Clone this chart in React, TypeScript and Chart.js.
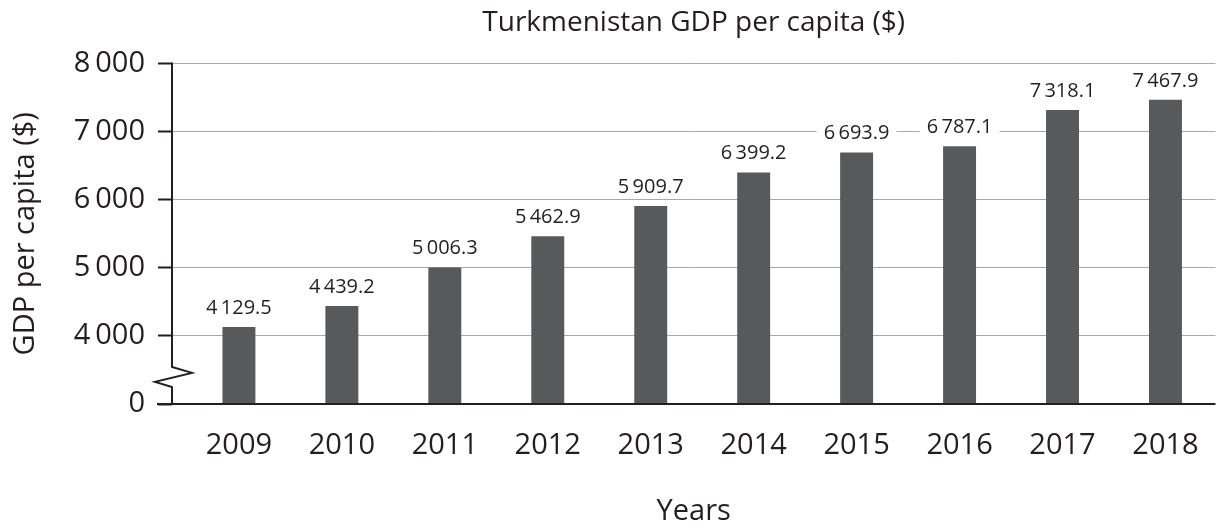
import React, { useEffect, useRef } from 'react';
import { Chart, registerables } from 'chart.js';

Chart.register(...registerables);

const years = ['2009', '2010', '2011', '2012', '2013', '2014', '2015', '2016', '2017', '2018'];
const gdpPerCapita = [4129.5, 4439.2, 5006.3, 5462.9, 5909.7, 6399.2, 6693.9, 6787.1, 7318.1, 7467.9];
const yTickValues = [3000, 4000, 5000, 6000, 7000, 8000];
const yTickLabels = ['0', '4\u2009000', '5\u2009000', '6\u2009000', '7\u2009000', '8\u2009000'];
const chartTitle = 'Turkmenistan GDP per capita ($)';
const xTitle = 'Years';
const yTitle = 'GDP per capita ($)';

const FONT = "'Open Sans', sans-serif";
const INK = '#231f20';
const BAR = '#58595b';
const GRID = '#a7a9ac';

function fmt(v: number): string {
  const s = v.toFixed(1);
  const [i, d] = s.split('.');
  const ig = i.replace(/\B(?=(\d{3})+(?!\d))/g, '\u2009');
  return ig + '.' + d;
}

export default function App() {
  const ref = useRef<HTMLCanvasElement>(null);

  useEffect(() => {
    document.body.style.margin = '0';
    const canvas = ref.current;
    if (!canvas) return;

    const brokenAxis = {
      id: 'brokenAxis',
      afterDraw(chart: any) {
        const { ctx, chartArea, scales } = chart;
        const y = scales.y;
        const x0 = chartArea.left;
        const base = y.getPixelForValue(yTickValues[0]);
        const top = y.getPixelForValue(yTickValues[yTickValues.length - 1]);
        const breakTop = y.getPixelForValue(3545);
        const breakBot = y.getPixelForValue(3250);
        ctx.save();
        ctx.strokeStyle = INK;
        ctx.lineJoin = 'miter';
        ctx.lineWidth = 2;
        ctx.beginPath();
        ctx.moveTo(x0, top - 1);
        ctx.lineTo(x0, breakTop);
        ctx.lineTo(x0 + 20, breakTop + 6);
        ctx.lineTo(x0 - 17, breakTop + 15);
        ctx.lineTo(x0, breakBot);
        ctx.lineTo(x0, base);
        ctx.stroke();
        ctx.beginPath();
        ctx.moveTo(x0 - 15, base);
        ctx.lineTo(chartArea.right, base);
        ctx.stroke();
        ctx.restore();
      },
    };

    const valueLabels = {
      id: 'valueLabels',
      afterDatasetsDraw(chart: any) {
        const { ctx } = chart;
        const meta = chart.getDatasetMeta(0);
        ctx.save();
        ctx.font = `20px ${FONT}`;
        ctx.textAlign = 'center';
        ctx.textBaseline = 'middle';
        meta.data.forEach((el: any, i: number) => {
          const text = fmt(gdpPerCapita[i]);
          const w = ctx.measureText(text).width;
          const ly = el.y - 19;
          ctx.fillStyle = '#ffffff';
          ctx.fillRect(el.x - w / 2 - 7, ly - 11, w + 14, 22);
          ctx.fillStyle = INK;
          ctx.fillText(text, el.x, ly);
        });
        ctx.restore();
      },
    };

    const chart = new Chart(canvas, {
      type: 'bar',
      data: {
        datasets: [
          {
            data: gdpPerCapita.map((v, i) => ({ x: i, y: v })) as any,
            backgroundColor: BAR,
            base: yTickValues[0],
            barPercentage: 0.32,
            categoryPercentage: 1,
          } as any,
        ],
      },
      options: {
        animation: false,
        responsive: false,
        layout: { padding: { left: 0, right: 6, top: 0, bottom: 0 } },
        plugins: {
          legend: { display: false },
          tooltip: { enabled: false },
          title: {
            display: true,
            text: chartTitle,
            fullSize: false,
            color: INK,
            font: { family: FONT, size: 28, weight: 'normal' },
            padding: { top: 6, bottom: 24 },
          },
        },
        scales: {
          x: {
            type: 'linear',
            offset: false,
            min: -0.65,
            max: 9.485,
            grid: { display: false, drawTicks: false },
            border: { display: false },
            ticks: {
              stepSize: 1,
              includeBounds: false,
              autoSkip: false,
              maxRotation: 0,
              padding: 24,
              color: INK,
              font: { family: FONT, size: 29 },
              callback: (v: any) => years[v] ?? '',
            },
            title: {
              display: true,
              text: xTitle,
              color: INK,
              font: { family: FONT, size: 29 },
              padding: { top: 0, bottom: 0 },
            },
            afterFit: (s: any) => {
              s.height = 125;
            },
          } as any,
          y: {
            type: 'linear',
            min: 3000,
            max: 8000,
            afterBuildTicks: (s: any) => {
              s.ticks = yTickValues.map((v) => ({ value: v }));
            },
            grid: { color: GRID, lineWidth: 1, tickLength: 14, tickWidth: 2, tickColor: INK },
            border: { display: false },
            ticks: {
              padding: 13,
              color: INK,
              font: { family: FONT, size: 29 },
              callback: (v: any) => yTickLabels[yTickValues.indexOf(v)] ?? '',
            },
            title: {
              display: true,
              text: yTitle,
              color: INK,
              font: { family: FONT, size: 29 },
              padding: { top: 8, bottom: 0 },
            },
            afterFit: (s: any) => {
              s.width = 172;
            },
          } as any,
        },
      },
      plugins: [valueLabels, brokenAxis],
    });

    return () => chart.destroy();
  }, []);

  return (
    <div style={{ width: 1223, height: 529 }}>
      <canvas ref={ref} width={1223} height={529} />
    </div>
  );
}
